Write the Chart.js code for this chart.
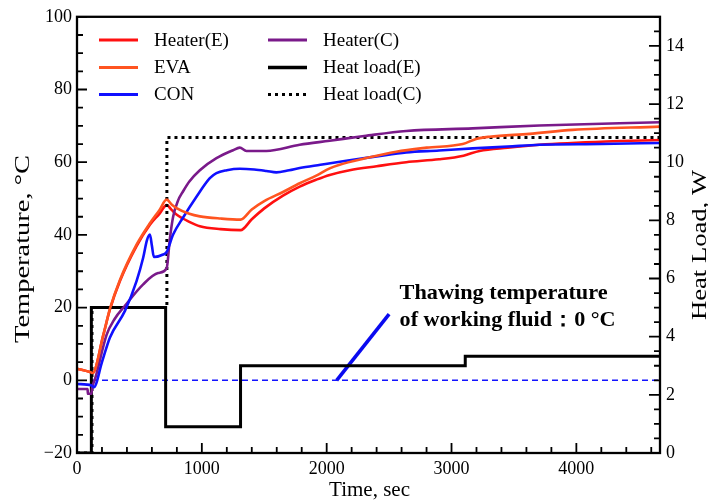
<!DOCTYPE html>
<html>
<head>
<meta charset="utf-8">
<script src="https://cdn.jsdelivr.net/npm/chart.js@4.4.1/dist/chart.umd.min.js"></script>
<style>
  html, body { margin: 0; padding: 0; background: #fff; }
  #wrap { width: 708px; height: 504px; }
</style>
</head>
<body>
<div id="wrap"><canvas id="c" width="708" height="504"></canvas></div>
<script>
// ---- data: time in seconds, temperatures in °C, heat load in W ----
const heaterETime = [0, 110, 125, 211, 264, 344, 477, 584, 660, 718, 760, 797, 900, 984, 1150, 1310, 1400, 1500, 1650, 1784, 1917, 2024, 2184, 2400, 2637, 2900, 3096, 3224, 3450, 3704, 4237, 4670];
const heaterETemp = [3.2, 2.2, 2.0, 12.5, 19.5, 27.3, 36.9, 42.8, 45.8, 48.2, 46.8, 45.6, 43.6, 42.4, 41.6, 41.3, 44.3, 47.3, 50.8, 53.3, 55.2, 56.5, 57.8, 58.9, 60.0, 60.8, 61.8, 63.1, 64.0, 64.8, 65.7, 66.1];

const evaTime = [0, 110, 125, 211, 264, 344, 477, 584, 660, 718, 760, 797, 900, 984, 1150, 1310, 1400, 1500, 1650, 1784, 1917, 2024, 2104, 2300, 2557, 2800, 3090, 3197, 3304, 3624, 3970, 4670];
const evaTemp = [3.2, 2.2, 2.0, 12.5, 19.7, 27.6, 37.3, 43.2, 46.8, 49.7, 48.3, 47.4, 45.8, 45.1, 44.5, 44.2, 47.0, 49.3, 51.8, 54.2, 56.3, 58.3, 59.3, 61.0, 62.9, 64.0, 65.0, 66.4, 67.0, 67.8, 68.9, 69.8];

const conTime = [0, 117, 135, 200, 264, 384, 477, 530, 560, 584, 600, 616, 690, 718, 770, 850, 957, 1064, 1117, 1200, 1304, 1420, 1517, 1597, 1700, 1784, 1950, 2157, 2400, 2637, 2900, 3170, 3450, 3704, 4200, 4670];
const conTemp = [-1.0, -1.4, -1.9, 5.0, 11.8, 19.1, 27.3, 33.7, 38.5, 40.1, 37.0, 33.9, 34.6, 35.3, 40.1, 44.8, 50.5, 55.6, 57.0, 57.8, 58.2, 58.0, 57.6, 57.2, 57.8, 58.4, 59.3, 60.4, 61.6, 62.7, 63.2, 63.8, 64.3, 64.8, 65.0, 65.3];

const heaterCTime = [0, 85, 87, 115, 122, 150, 237, 300, 384, 530, 650, 718, 744, 770, 810, 850, 900, 984, 1117, 1250, 1304, 1357, 1517, 1784, 2024, 2300, 2637, 3170, 3704, 4670];
const heaterCTemp = [-2.4, -2.4, -3.7, -3.7, -2.0, 1.0, 12.5, 16.8, 20.5, 26.4, 29.5, 30.8, 39.0, 45.0, 49.5, 52.0, 54.7, 57.8, 61.1, 63.3, 64.0, 63.1, 63.1, 64.8, 65.9, 67.2, 68.6, 69.3, 70.1, 71.0];

const loadETime = [0, 115, 710, 1310, 3110, 4670];
const loadEWatt = [0, 5.0, 0.9, 3.0, 3.33, 3.33];

const loadCTime = [0, 120, 720, 4670];
const loadCWatt = [0, 5.0, 10.85, 10.85];

const thawLineTime = [120, 4670];
const thawLineTemp = [0, 0];

const pointerTime = [2080, 2500];
const pointerTemp = [0, 18.2];

const timeTicks = [0, 1000, 2000, 3000, 4000];
const tempTicks = [-20, 0, 20, 40, 60, 80, 100];
const loadTicks = [0, 2, 4, 6, 8, 10, 12, 14];

const noteLines = ['Thawing temperature', 'of working fluid\uFF1A0 \u00B0C'];

const toXY = (xs, ys) => xs.map((x, i) => ({ x, y: ys[i] }));

const SERIF = '"Liberation Serif", "Times New Roman", serif';

const curve = { cubicInterpolationMode: 'monotone' };

const datasets = [
  Object.assign({ label: 'Heater(E)', data: toXY(heaterETime, heaterETemp), borderColor: '#ff1010', borderWidth: 2.6, yAxisID: 'y', order: 1, inLegend: true, legendCol: 0, legendRow: 0 }, curve),
  Object.assign({ label: 'EVA', data: toXY(evaTime, evaTemp), borderColor: '#ff5420', borderWidth: 2.6, yAxisID: 'y', inLegend: true, legendCol: 0, legendRow: 1 }, curve),
  Object.assign({ label: 'CON', data: toXY(conTime, conTemp), borderColor: '#1010ff', borderWidth: 2.6, yAxisID: 'y', inLegend: true, legendCol: 0, legendRow: 2 }, curve),
  Object.assign({ label: 'Heater(C)', data: toXY(heaterCTime, heaterCTemp), borderColor: '#7a1a8a', borderWidth: 2.6, yAxisID: 'y', inLegend: true, legendCol: 1, legendRow: 0 }, curve),
  { label: 'Heat load(E)', data: toXY(loadETime, loadEWatt), borderColor: '#000', borderWidth: 3, stepped: true, yAxisID: 'y2', inLegend: true, legendCol: 1, legendRow: 1 },
  { label: 'Heat load(C)', data: toXY(loadCTime, loadCWatt), borderColor: '#000', borderWidth: 3, borderDash: [3, 4], stepped: true, yAxisID: 'y2', inLegend: true, legendCol: 1, legendRow: 2 },
  { label: 'thaw', data: toXY(thawLineTime, thawLineTemp), borderColor: '#1414ff', borderWidth: 1.6, borderDash: [6, 4], yAxisID: 'y' },
  { label: 'pointer', data: toXY(pointerTime, pointerTemp), borderColor: '#0a0af0', borderWidth: 3.6, yAxisID: 'y', clip: false }
].map(d => Object.assign({ pointRadius: 0, fill: false, tension: 0 }, d));

// frame, inward ticks, axis titles, legend and note
const decorations = {
  id: 'decorations',
  afterDatasetsDraw(chart) {
    const { ctx, chartArea: a, scales } = chart;
    const { x, y, y2 } = scales;
    ctx.save();
    ctx.strokeStyle = '#000';
    ctx.lineWidth = 2.3;
    ctx.strokeRect(a.left, a.top, a.right - a.left, a.bottom - a.top);

    ctx.lineWidth = 1.8;
    ctx.beginPath();
    for (let v = 0; v <= x.max; v += 200) {
      const px = x.getPixelForValue(v);
      const len = v % 1000 === 0 ? 10 : 6;
      ctx.moveTo(px, a.bottom); ctx.lineTo(px, a.bottom - len);
    }
    for (let v = y.min; v <= y.max; v += 5) {
      const py = y.getPixelForValue(v);
      const len = v % 20 === 0 ? 10 : 6;
      ctx.moveTo(a.left, py); ctx.lineTo(a.left + len, py);
    }
    for (let v = y2.min; v <= y2.max; v += 0.5) {
      const py = y2.getPixelForValue(v);
      const len = v % 2 === 0 ? 11 : 6;
      ctx.moveTo(a.right, py); ctx.lineTo(a.right - len, py);
    }
    ctx.stroke();

    // axis titles
    ctx.fillStyle = '#000';
    ctx.font = '21px ' + SERIF;
    ctx.textAlign = 'center';
    ctx.textBaseline = 'middle';
    ctx.fillText('Time, sec', (a.left + a.right) / 2 + 1, 490);

    const vertical = (text, cx, cy, len) => {
      ctx.save();
      ctx.translate(cx, cy);
      ctx.rotate(-Math.PI / 2);
      const w = ctx.measureText(text).width;
      ctx.scale(len / w, 1);
      ctx.fillText(text, 0, 0);
      ctx.restore();
    };
    vertical('Temperature, \u00B0C', 23, 249, 188);
    vertical('Heat Load, W', 700, 245, 150);

    // legend
    ctx.font = '19px ' + SERIF;
    ctx.textAlign = 'left';
    const colLine = [99, 268], lineLen = 39, colText = [154, 323];
    const rowY = [40, 67.5, 94.5];
    chart.data.datasets.forEach(ds => {
      if (!ds.inLegend) return;
      const ly = rowY[ds.legendRow], lx = colLine[ds.legendCol];
      ctx.save();
      ctx.strokeStyle = ds.borderColor;
      ctx.lineWidth = ds.borderDash ? 3.2 : ds.borderWidth + 0.4;
      ctx.setLineDash(ds.borderDash || []);
      ctx.beginPath(); ctx.moveTo(lx, ly); ctx.lineTo(lx + lineLen, ly); ctx.stroke();
      ctx.restore();
      ctx.fillText(ds.label, colText[ds.legendCol], ly + 1);
    });

    // note about the thawing temperature
    ctx.font = 'bold 21px ' + SERIF;
    const nx = x.getPixelForValue(2584);
    const wideText = (text, px, py, len) => {
      ctx.save();
      ctx.translate(px, py);
      ctx.scale(len / ctx.measureText(text).width, 1);
      ctx.fillText(text, 0, 0);
      ctx.restore();
    };
    wideText(noteLines[0], nx, y.getPixelForValue(23.8), 208);
    wideText(noteLines[1], nx, y.getPixelForValue(16.4), 216);
    ctx.restore();
  }
};

const tickFont = { family: SERIF, size: 18 };
const fmt = v => (v < 0 ? '\u2212' + Math.abs(v) : String(v));

new Chart(document.getElementById('c'), {
  type: 'line',
  data: { datasets },
  options: {
    responsive: false,
    devicePixelRatio: 1,
    animation: false,
    layout: { padding: { top: 15, left: 0, right: 0, bottom: 0 } },
    plugins: { legend: { display: false }, tooltip: { enabled: false } },
    scales: {
      x: {
        type: 'linear', position: 'bottom', min: 0, max: 4670,
        grid: { display: false, drawTicks: false }, border: { display: false },
        afterBuildTicks: s => { s.ticks = timeTicks.map(v => ({ value: v })); },
        afterFit: s => { s.height = 51; },
        ticks: { font: tickFont, color: '#000', padding: 5, maxRotation: 0, autoSkip: false, callback: v => fmt(v) }
      },
      y: {
        type: 'linear', position: 'left', min: -20, max: 100,
        grid: { display: false, drawTicks: false }, border: { display: false },
        afterBuildTicks: s => { s.ticks = tempTicks.map(v => ({ value: v })); },
        afterFit: s => { s.width = 77; },
        ticks: { font: tickFont, color: '#000', padding: 5, autoSkip: false, callback: v => fmt(v) }
      },
      y2: {
        type: 'linear', position: 'right', min: 0, max: 15,
        grid: { display: false, drawTicks: false }, border: { display: false },
        afterBuildTicks: s => { s.ticks = loadTicks.map(v => ({ value: v })); },
        afterFit: s => { s.width = 48; },
        ticks: { font: tickFont, color: '#000', padding: 6, autoSkip: false, callback: v => fmt(v) }
      }
    }
  },
  plugins: [decorations]
});
</script>
</body>
</html>
